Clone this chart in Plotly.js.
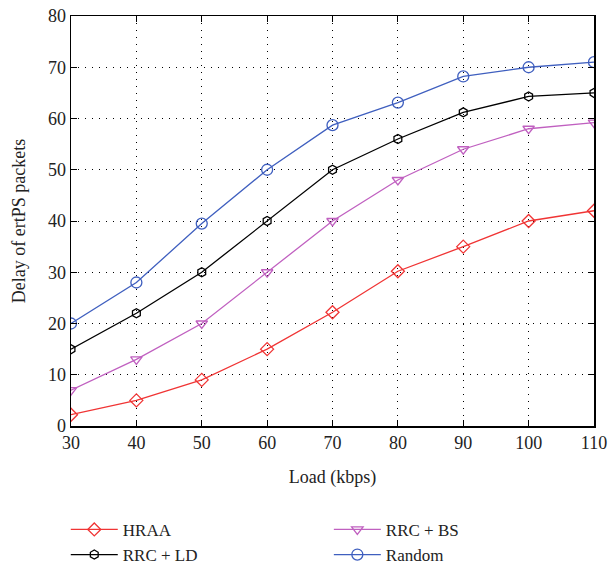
<!DOCTYPE html>
<html>
<head>
<meta charset="utf-8">
<script src="https://cdn.plot.ly/plotly-3.0.1.min.js"></script>
<style>html,body{margin:0;padding:0;background:#fff;}#chart{width:613px;height:565px;}</style>
</head>
<body>
<div id="chart"></div>
<script>
const load = [30, 40, 50, 60, 70, 80, 90, 100, 110];
const hraa = [2.2, 5, 9, 15, 22.2, 30.2, 35, 40, 42];
const rrcLd = [15, 22, 30, 40, 50, 56, 61.2, 64.3, 65];
const rrcBs = [7, 13, 20, 30, 40, 48, 54, 58, 59.2];
const random = [20, 28, 39.5, 50, 58.7, 63.1, 68.2, 70, 71];
const seriesNames = ["HRAA", "RRC + LD", "RRC + BS", "Random"];
const xTicks = [30, 40, 50, 60, 70, 80, 90, 100, 110];
const yTicks = [0, 10, 20, 30, 40, 50, 60, 70, 80];

const font = "Liberation Serif, Times New Roman, serif";
function tr(y, name, color, symbol, size, legendId) {
  return {
    x: load, y: y, name: name, type: "scatter", mode: "lines+markers",
    line: {color: color, width: 1.3},
    marker: {symbol: symbol, size: size, color: color, line: {color: color, width: 1.3}},
    legend: legendId
  };
}
const data = [
  tr(hraa, seriesNames[0], "#f03434", "diamond-open", 10, "legend"),
  tr(rrcLd, seriesNames[1], "#000000", "hexagon-open", 9, "legend"),
  tr(rrcBs, seriesNames[2], "#c060c0", "triangle-down-open", 10, "legend2"),
  tr(random, seriesNames[3], "#3f5fbf", "circle-open", 11, "legend2")
];
const axisCommon = {
  showline: true, linecolor: "#000", linewidth: 1.5, mirror: "ticks",
  ticks: "inside", ticklen: 6, tickcolor: "#000", tickwidth: 1,
  showgrid: true, gridcolor: "#000", gridwidth: 1, griddash: "1px,6px",
  zeroline: false, tickfont: {family: font, size: 18, color: "#222"}
};
const legendCommon = {
  orientation: "v", xref: "paper", yref: "container",
  y: 0.094, xanchor: "left", yanchor: "top",
  itemwidth: 47, traceorder: "normal",
  font: {family: font, size: 17, color: "#222"}, tracegroupgap: 0,
  bgcolor: "rgba(0,0,0,0)"
};
const layout = {
  width: 613, height: 565,
  margin: {l: 71, r: 19, t: 16, b: 139},
  paper_bgcolor: "#fff", plot_bgcolor: "#fff",
  font: {family: font, color: "#222"},
  xaxis: Object.assign({}, axisCommon, {
    range: [30, 110], tickvals: xTicks,
    title: {text: "Load (kbps)", font: {family: font, size: 18, color: "#222"}, standoff: 18}
  }),
  yaxis: Object.assign({}, axisCommon, {
    range: [0, 80], tickvals: yTicks,
    title: {text: "Delay of ertPS packets", font: {family: font, size: 18, color: "#222"}, standoff: 17}
  }),
  showlegend: true,
  legend: Object.assign({}, legendCommon, {x: -0.01}),
  legend2: Object.assign({}, legendCommon, {x: 0.493})
};
Plotly.newPlot("chart", data, layout, {displayModeBar: false, staticPlot: true});
</script>
</body>
</html>
